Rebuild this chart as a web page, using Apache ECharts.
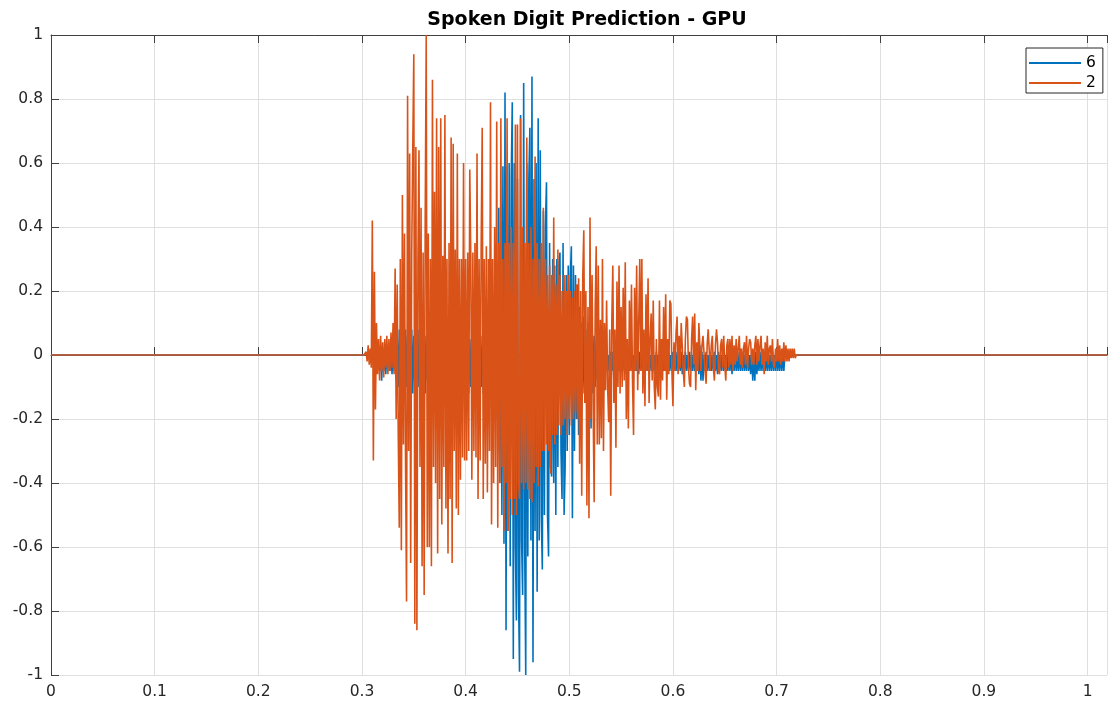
<!DOCTYPE html>
<html>
<head>
<meta charset="utf-8">
<title>Spoken Digit Prediction - GPU</title>
<script src="https://cdn.jsdelivr.net/npm/echarts@6/dist/echarts.min.js"></script>
<style>
  html, body { margin: 0; padding: 0; background: #ffffff; }
  #chart { width: 1110px; height: 702px; }
</style>
</head>
<body>
<div id="chart"></div>
<script>
// Audio waveforms of the two predicted digits, one sample per millisecond
// starting at SEGMENT_START seconds; silence (0) everywhere else.
const SEGMENT_START = 0.300;
const SAMPLE_STEP = 0.001;
const CLIP_END = 1.01875;

const seriesNames = ['6', '2'];

// digit "6" (blue)
const digit6 = [
  0,0,0,0,0,0,0,0,0,0,
  0,0,0,0,0,-.03,.01,-.05,.02,-.08,
  .01,-.05,.02,-.06,.01,-.05,.02,-.05,.01,-.06,
  .02,-.05,.03,-.08,.05,-.10,.08,-.12,.06,-.10,
  .05,-.14,.08,-.10,.06,-.12,.05,-.10,.08,-.12,
  .06,-.10,.05,-.14,.08,-.10,.06,-.12,.05,-.10,
  .08,-.12,.06,-.08,.05,-.10,.06,-.12,.05,-.10,
  .06,-.12,.04,-.10,.06,-.12,.05,-.10,.06,-.12,
  .05,-.10,.06,-.08,.05,-.12,.06,-.10,.05,-.12,
  .06,-.10,.05,-.14,.06,-.10,.05,-.16,.06,-.12,
  .05,-.10,.06,-.12,.05,-.10,.06,-.16,.05,-.12,
  .08,-.10,.06,-.12,.05,-.10,.06,-.12,.08,-.10,
  .06,-.12,.08,-.16,.10,-.12,.12,-.18,.15,-.20,
  .20,-.30,.46,-.40,.40,-.50,.59,-.59,.82,-.86,
  .59,-.55,.60,-.66,.55,.79,-.95,.60,-.60,-.83,
  .55,-.74,-.99,.75,-.58,-.75,.85,-.60,-1.0,.60,
  -.63,.55,.71,-.58,.87,-.96,.55,-.55,.60,-.74,
  .74,-.58,.64,-.50,-.67,.45,-.50,.40,.54,-.50,
  -.63,.35,-.35,-.38,.30,-.40,.28,-.50,.30,-.35,
  .28,.32,-.30,-.45,.35,-.50,-.35,.25,-.30,.28,
  -.25,.25,.34,-.51,.28,-.30,.25,-.20,.22,-.25,
  .15,-.18,.10,-.12,.12,-.15,.08,-.12,.10,-.15,
  .08,-.23,.10,-.12,.06,-.10,.05,-.08,.04,-.07,
  .05,-.06,.01,-.05,.00,-.05,.02,-.05,.00,-.06,
  .01,-.05,.01,-.08,.00,-.05,.01,-.05,.02,-.05,
  .00,-.05,.01,-.05,.00,-.06,.01,-.05,.00,-.05,
  .01,-.05,.00,-.05,.01,-.05,.00,-.06,.01,-.05,
  .00,-.05,.01,-.05,.00,-.05,.01,-.05,.00,-.05,
  .01,-.05,.00,-.06,.01,-.05,.00,-.05,.01,-.05,
  .00,-.05,.01,-.05,.00,-.06,.01,-.05,.00,-.05,
  .01,-.05,.00,-.05,.01,-.05,.00,-.05,.01,-.06,
  .00,-.05,.01,-.05,.00,-.05,.01,-.05,.00,-.05,
  .01,-.05,.00,-.05,.02,-.06,.03,-.08,.01,-.08,
  .00,-.05,.01,-.05,.00,-.05,.01,-.05,.00,-.05,
  .01,-.05,.00,-.06,.01,-.05,.00,-.05,.01,-.05,
  .00,-.05,.01,-.05,.00,-.05,.01,-.06,.00,-.05,
  .01,-.05,.00,-.05,.01,-.05,.00,-.05,.01,-.05,
  .00,-.05,.01,-.05,.00,-.06,.01,-.08,.00,-.08,
  .01,-.06,.00,-.05,.01,-.05,.00,-.05,.01,-.05,
  .00,-.05,.01,-.05,.00,-.05,.01,-.05,.00,-.05,
  .01,-.05,.00,-.05,.01,-.05,.00,-.05,.00,0
];

// digit "2" (orange)
const digit2 = [
  0,0,0,0,.01,-.02,.03,-.03,.02,-.04,
  .42,-.33,.26,-.17,.10,-.06,.05,-.08,.06,-.05,
  .04,-.07,.05,-.04,.06,-.06,.05,-.05,.07,-.04,
  .10,-.06,.27,-.20,.22,-.25,-.54,.30,-.61,.50,
  -.28,.38,-.32,-.77,.81,-.30,.63,-.65,.32,.64,
  .94,-.84,.65,-.86,.30,.64,-.35,.46,-.66,.32,
  -.75,.42,1.0,-.60,.38,-.60,.30,-.66,.86,-.35,
  .51,-.40,.74,-.62,.65,-.45,.74,-.53,.31,-.35,
  .75,-.48,.30,-.62,.35,-.45,.68,-.65,.66,-.30,
  .33,-.48,.63,-.50,.30,-.39,.30,-.32,.60,-.33,
  .30,-.33,.32,-.30,.58,.30,-.39,.32,-.30,.35,
  -.32,.63,-.45,.30,-.33,.34,.71,-.45,.30,-.34,
  .34,-.43,.30,-.30,.79,-.53,.30,-.40,.40,-.35,
  .73,-.54,.35,-.40,.74,-.35,.30,-.55,.35,-.40,
  .74,-.55,.35,-.45,.40,-.50,.35,-.45,.72,-.50,
  .72,-.40,-.45,.74,-.40,.40,-.42,.35,-.40,.68,
  -.42,.35,-.45,.40,-.46,.30,-.40,.62,-.35,.35,
  -.41,.30,-.35,.35,-.30,.46,-.30,.30,-.28,.25,
  -.30,.28,-.37,.25,-.25,.43,-.28,.22,-.25,.33,
  -.22,.25,-.25,.20,-.22,.25,-.20,.20,-.25,.25,
  -.20,.20,-.22,.18,-.20,.20,-.18,.22,-.20,.24,
  -.34,.20,-.44,.24,.39,-.15,.20,-.47,.15,-.51,
  .43,-.20,.25,-.15,-.46,.15,.34,-.28,.28,-.28,
  .11,-.26,.30,-.30,.10,-.11,.17,-.10,-.21,.08,
  -.44,.10,.28,-.15,.08,-.29,.23,-.10,.28,-.12,
  .15,-.10,.21,-.08,.29,-.20,.05,-.23,.17,-.05,
  .22,-.08,-.25,.21,-.05,.28,-.11,.10,.30,-.05,
  .30,-.12,.08,-.16,.19,-.05,.24,-.15,.05,.13,
  -.08,.17,-.10,-.17,.05,-.10,-.13,.17,-.14,.05,
  -.08,.15,-.05,.19,-.14,.05,-.06,.17,.16,-.05,
  -.16,.04,-.05,.07,.12,-.06,.06,-.04,.10,.10,
  -.05,-.10,.05,.12,.11,-.04,-.09,-.10,.05,.12,
  -.03,.13,-.11,.04,-.05,.10,.10,-.05,.03,.06,
  .06,-.05,-.09,.03,.08,.08,-.05,.03,.06,-.04,
  -.08,.03,.08,.04,-.05,-.06,.03,.05,-.04,.06,
  -.03,-.08,.03,.05,-.04,.05,-.03,.06,-.05,.03,
  -.03,.05,-.02,.02,.06,-.03,.02,-.04,.02,.04,
  -.03,.06,-.04,.02,.05,.04,-.03,.02,-.03,.03,
  .06,-.03,.05,-.02,.03,.06,-.03,.02,-.06,.04,
  -.02,.06,-.03,.02,.03,-.02,.05,-.03,-.04,.02,
  -.02,.05,-.02,.03,-.03,.02,-.02,.04,-.02,.03,
  -.02,.02,-.02,.02,-.01,.02,-.01,.02,-.01,0,
  0
];

const xTicks = { min: 0, max: CLIP_END, step: 0.1 };
const yTicks = { min: -1, max: 1, step: 0.2 };

function toPoints(values) {
  const pts = [[0, 0]];
  values.forEach(function (v, i) {
    pts.push([+(SEGMENT_START + i * SAMPLE_STEP).toFixed(4), v]);
  });
  pts.push([CLIP_END, 0]);
  return pts;
}

const FONT = 'DejaVu Sans';
const AXIS_COLOR = '#404040';
const GRID_COLOR = '#dfdfdf';
const WAVE_WIDTH = 1.6;

const chart = echarts.init(document.getElementById('chart'), null, { renderer: 'canvas' });

function tenthLabel(v) {
  if (Math.abs(v * 10 - Math.round(v * 10)) > 1e-6) return '';
  return String(+v.toFixed(1));
}

chart.setOption({
  animation: false,
  backgroundColor: '#ffffff',
  title: {
    text: 'Spoken Digit Prediction - GPU',
    left: 582,
    textAlign: 'center',
    top: 6,
    textStyle: { fontFamily: FONT, fontSize: 19, fontWeight: 'bold', color: '#000000' }
  },
  legend: {
    data: seriesNames,
    orient: 'vertical',
    left: 1026,
    top: 48,
    padding: [7, 7, 2, 3],
    itemGap: 4,
    itemWidth: 52,
    itemHeight: 2,
    icon: 'rect',
    borderColor: '#262626',
    borderWidth: 1,
    backgroundColor: '#ffffff',
    textStyle: { fontFamily: FONT, fontSize: 15.5, lineHeight: 16, color: '#000000' }
  },
  grid: { left: 51, top: 35, width: 1040 * CLIP_END, height: 640, containLabel: false },
  xAxis: [
    {
      type: 'value', position: 'bottom',
      min: xTicks.min, max: xTicks.max, interval: xTicks.step,
      axisLine: { show: true, lineStyle: { color: AXIS_COLOR, width: 1 } },
      axisTick: { show: true, inside: true, length: 8, lineStyle: { color: AXIS_COLOR } },
      axisLabel: { fontFamily: FONT, fontSize: 15.5, color: '#262626', margin: 9, formatter: tenthLabel },
      splitLine: { show: true, lineStyle: { color: GRID_COLOR, width: 1 } }
    },
    {
      type: 'value', position: 'top',
      min: xTicks.min, max: xTicks.max, interval: xTicks.step,
      axisLine: { show: true, lineStyle: { color: AXIS_COLOR, width: 1 } },
      axisTick: { show: true, inside: true, length: 8, lineStyle: { color: AXIS_COLOR } },
      axisLabel: { show: false },
      splitLine: { show: false }
    }
  ],
  yAxis: {
    type: 'value',
    min: yTicks.min, max: yTicks.max, interval: yTicks.step,
    axisLine: { show: true, lineStyle: { color: AXIS_COLOR, width: 1 } },
    axisTick: { show: true, inside: true, length: 8, lineStyle: { color: AXIS_COLOR } },
    axisLabel: { fontFamily: FONT, fontSize: 15.5, color: '#262626', margin: 8,
      formatter: function (v) { return String(+v.toFixed(1)); } },
    splitLine: { show: true, lineStyle: { color: GRID_COLOR, width: 1 } }
  },
  series: [
    {
      name: seriesNames[0], type: 'line', xAxisIndex: 0,
      data: toPoints(digit6),
      showSymbol: false, symbol: 'none',
      color: '#0072BD',
      lineStyle: { color: '#0072BD', width: WAVE_WIDTH },
      clip: true, z: 2
    },
    {
      name: seriesNames[1], type: 'line', xAxisIndex: 0,
      data: toPoints(digit2),
      showSymbol: false, symbol: 'none',
      color: '#D95319',
      lineStyle: { color: '#D95319', width: WAVE_WIDTH },
      clip: true, z: 3
    }
  ]
});
</script>
</body>
</html>
